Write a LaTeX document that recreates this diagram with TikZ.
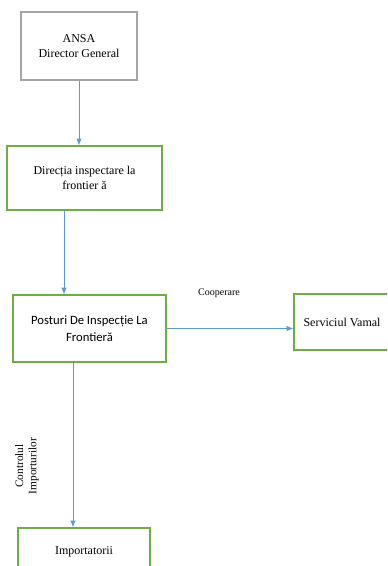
\documentclass[tikz,border=0pt]{standalone}
\usepackage{fontspec}
\setmainfont{Liberation Serif}
\newfontfamily\calib{Carlito}
\usetikzlibrary{arrows.meta}
\definecolor{boxgreen}{HTML}{70AD47}
\definecolor{boxgray}{HTML}{A5A5A5}
\definecolor{arrowblue}{HTML}{5B9BD5}
\tikzset{
  box/.style={draw=boxgreen, line width=0.9pt, align=center, inner sep=0pt, font=\fontsize{9}{11.5}\selectfont},
  graybox/.style={draw=boxgray, line width=0.9pt, align=center, inner sep=0pt, font=\fontsize{9}{11.5}\selectfont},
  conn/.style={draw=arrowblue, line width=0.6pt, -{Latex[length=5pt,width=4pt]}},
  lbl/.style={font=\fontsize{7.5}{9}\selectfont, inner sep=0pt, align=center}
}
\begin{document}
\begin{tikzpicture}[x=0.75pt,y=-0.75pt]
\useasboundingbox (0,0) rectangle (387,566);
\clip (0,0) rectangle (387,566);
\node[graybox, minimum width=116*0.75pt, minimum height=68*0.75pt] (ansa) at (79,46) {ANSA\\Director General};
\node[box, minimum width=155*0.75pt, minimum height=64*0.75pt] (dir) at (84.5,178) {Direcția inspectare la\\frontier ă};
\node[box, minimum width=153*0.75pt, minimum height=67*0.75pt, font=\calib\fontsize{9.5}{12.5}\selectfont] (post) at (89.5,328.5) {Posturi De Inspecție La\\Frontieră};
\node[box, minimum width=96*0.75pt, minimum height=56*0.75pt] (vam) at (342,322) {Serviciul Vamal};
\node[box, minimum width=132*0.75pt, minimum height=48*0.75pt] (imp) at (84,552) {Importatorii};
\node[lbl] (coop) at (219,293) {Cooperare};
\node[lbl, rotate=90, font=\fontsize{8.5}{10}\selectfont] (ctrl) at (27,466) {Controlul\\Importurilor};
\draw[conn] (ansa.south) -- (ansa.south |- dir.north);
\coordinate (a2) at ([xshift=-15.4pt]dir.south);
\draw[conn] (a2) -- (a2 |- post.north);
\draw[conn] (post.east) -- (post.east -| vam.west);
\coordinate (a4) at ([xshift=-12.4pt]post.south);
\draw[conn] (a4) -- (a4 |- imp.north);
\end{tikzpicture}
\end{document}
